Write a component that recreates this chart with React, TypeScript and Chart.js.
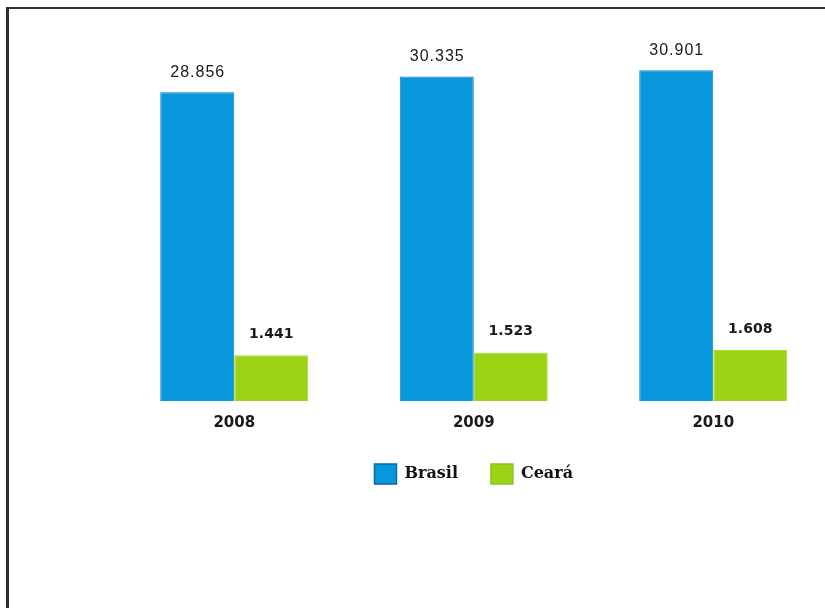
import React, { useEffect, useRef } from 'react';
import { Chart, registerables } from 'chart.js';

Chart.register(...registerables);

const categories = ['2008', '2009', '2010'];
const brasilValues = [28.856, 30.335, 30.901];
const cearaValues = [1.441, 1.523, 1.608];
const seriesNames = ['Brasil', 'Ceará'];

const BLUE = '#0896DC';
const GREEN = '#9CD415';

const valueLabels = {
  id: 'valueLabels',
  afterDatasetsDraw(chart: any) {
    const ctx = chart.ctx;
    chart.data.datasets.forEach((ds: any, di: number) => {
      const meta = chart.getDatasetMeta(di);
      meta.data.forEach((el: any, i: number) => {
        const v = ds.data[i] as number;
        const txt = v.toFixed(3);
        ctx.save();
        ctx.textAlign = 'center';
        ctx.textBaseline = 'middle';
        ctx.fillStyle = '#1a1a1a';
        if (di === 0) {
          ctx.font = '16px "Liberation Sans", Arial, sans-serif';
          try { (ctx as any).letterSpacing = '1px'; } catch (e) {}
          ctx.fillText(txt, el.x + 0.5, el.y - 20);
        } else {
          ctx.font = 'bold 14px "DejaVu Sans", sans-serif';
          ctx.fillText(txt, el.x, el.y - 21);
        }
        ctx.restore();
      });
    });
  },
};

export default function App() {
  const ref = useRef<HTMLCanvasElement | null>(null);
  useEffect(() => {
    if (!ref.current) return;
    const chart = new Chart(ref.current, {
      type: 'bar',
      data: {
        labels: categories,
        datasets: [
          {
            label: seriesNames[0],
            data: brasilValues,
            backgroundColor: BLUE,
            borderColor: '#0A7DBA',
            borderWidth: 1,
            yAxisID: 'y',
            barPercentage: 1,
            categoryPercentage: 0.618,
          },
          {
            label: seriesNames[1],
            data: cearaValues,
            backgroundColor: GREEN,
            borderColor: '#A6DA2E',
            borderWidth: 1,
            yAxisID: 'y2',
            barPercentage: 1,
            categoryPercentage: 0.618,
          },
        ],
      },
      options: {
        animation: false,
        responsive: true,
        maintainAspectRatio: false,
        layout: { padding: { left: 114.5, right: 115, top: 26.5, bottom: 114 } },
        scales: {
          x: {
            grid: { display: false, drawTicks: false },
            border: { display: false },
            ticks: {
              font: { family: '"DejaVu Sans", sans-serif', weight: 'bold', size: 15 },
              color: '#1a1a1a',
              padding: 13,
            },
            afterFit: (scale: any) => {
              scale.height = 30;
            },
          },
          y: { display: false, min: 0, max: 35 },
          y2: { display: false, min: 0, max: 11.8 },
        },
        plugins: {
          tooltip: { enabled: false },
          legend: {
            position: 'bottom',
            labels: {
              boxWidth: 22,
              boxHeight: 20,
              padding: 33,
              color: '#111',
              font: { family: '"DejaVu Serif", serif', weight: 'bold', size: 16 },
              generateLabels: (c: any) =>
                c.data.datasets.map((ds: any, i: number) => ({
                  text: ds.label,
                  fillStyle: ds.backgroundColor,
                  strokeStyle: i === 0 ? '#086A9E' : '#8CC21E',
                  lineWidth: 1.5,
                  hidden: false,
                  datasetIndex: i,
                  fontColor: '#111',
                })),
            },
          },
        },
      },
      plugins: [valueLabels],
    });
    return () => chart.destroy();
  }, []);

  return (
    <div style={{ position: 'absolute', left: 0, top: 0, width: 825, height: 608, overflow: 'hidden', background: '#fff' }}>
      <div
        style={{
          position: 'absolute',
          left: 6,
          top: 7,
          width: 900,
          height: 700,
          borderLeft: '3px solid #2e2e2e',
          borderTop: '2px solid #2e2e2e',
        }}
      />
      <div style={{ position: 'absolute', left: 0, top: 0, width: 948, height: 608 }}>
        <canvas ref={ref} />
      </div>
    </div>
  );
}
